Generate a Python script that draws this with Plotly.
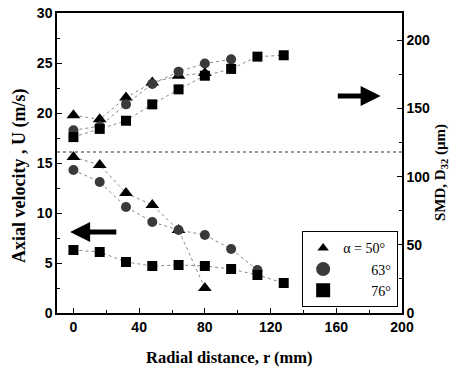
import plotly.graph_objects as go

r_mm = [0, 16, 32, 48, 64, 80, 96, 112, 128]

# Axial velocity U (m/s), left axis
u_50 = [15.6, 14.8, 12.0, 10.8, 8.3, 2.5]
u_63 = [14.3, 13.1, 10.6, 9.1, 8.3, 7.8, 6.4, 4.3]
u_76 = [6.3, 6.1, 5.1, 4.7, 4.8, 4.7, 4.4, 3.8, 3.0]

# SMD D32 (um), right axis
d_50 = [145, 142, 158, 169, 174, 176]
d_63 = [134, 137, 153, 168, 177, 183, 186]
d_76 = [129, 135, 141, 153, 164, 174, 179, 188, 189]

legend_names = ["\u03b1 = 50\u00b0", "        63\u00b0", "        76\u00b0"]

divider_u = 16.1

fig = go.Figure()

line_style = dict(color="#8a8a8a", width=1, dash="dot")
styles = [
    dict(symbol="triangle-up", size=12, color="#000"),
    dict(symbol="circle", size=10, color="#3a3a3a"),
    dict(symbol="square", size=10, color="#000"),
]

for vals, st in zip([u_50, u_63, u_76], styles):
    fig.add_trace(go.Scatter(x=r_mm[:len(vals)], y=vals, mode="lines+markers",
                             line=line_style, marker=st, showlegend=False, yaxis="y"))
for vals, st in zip([d_50, d_63, d_76], styles):
    fig.add_trace(go.Scatter(x=r_mm[:len(vals)], y=vals, mode="lines+markers",
                             line=line_style, marker=st, showlegend=False, yaxis="y2"))
leg_styles = [
    dict(symbol="triangle-up", size=10, color="#000"),
    dict(symbol="circle", size=14, color="#3a3a3a"),
    dict(symbol="square", size=14, color="#000"),
]
for name, st in zip(legend_names, leg_styles):
    fig.add_trace(go.Scatter(x=[None], y=[None], mode="markers", marker=st,
                             name=name, showlegend=True))

tickfont = dict(family="Liberation Sans, Arial", size=14, color="#000", weight="bold")
serif_bold = dict(family="Liberation Serif, Times New Roman", color="#000", weight="bold")

fig.add_shape(type="line", xref="paper", x0=0, x1=1, yref="y", y0=divider_u, y1=divider_u,
              line=dict(color="#333", width=1.2, dash="dot"))

# arrows
fig.add_annotation(x=-2, y=8.1, ax=27, ay=8.1, xref="x", yref="y", axref="x", ayref="y",
                   showarrow=True, arrowhead=2, arrowsize=0.8, arrowwidth=5, arrowcolor="#000", text="")
fig.add_annotation(x=187, y=21.7, ax=160, ay=21.7, xref="x", yref="y", axref="x", ayref="y",
                   showarrow=True, arrowhead=2, arrowsize=0.8, arrowwidth=5, arrowcolor="#000", text="")

# axis titles
fig.add_annotation(text="Axial velocity , U (m/s)", xref="paper", yref="paper",
                   x=-0.107, y=0.457, xanchor="center", yanchor="middle", textangle=-90,
                   showarrow=False, font=dict(serif_bold, size=18))
fig.add_annotation(text="SMD, D<sub>32</sub> (\u00b5m)", xref="paper", yref="paper",
                   x=1.113, y=0.47, xanchor="center", yanchor="middle", textangle=-90,
                   showarrow=False, font=dict(serif_bold, size=15))
fig.add_annotation(text="Radial distance, r (mm)", xref="paper", yref="paper",
                   x=0.5, y=-0.147, xanchor="center", yanchor="middle",
                   showarrow=False, font=dict(serif_bold, size=16.5))

fig.update_layout(
    width=457, height=376,
    margin=dict(l=57, r=55, t=13, b=63),
    paper_bgcolor="white", plot_bgcolor="white",
    xaxis=dict(range=[-10, 200], tickvals=[0, 40, 80, 120, 160, 200], ticks="inside",
               ticklen=5, tickwidth=1, tickcolor="#000", showline=True, linecolor="#000",
               linewidth=1.5, mirror=True, showgrid=False, zeroline=False, automargin=False,
               tickfont=tickfont,
               minor=dict(tickvals=[20, 60, 100, 140, 180], ticks="inside", ticklen=3, tickcolor="#000")),
    yaxis=dict(range=[0, 30], tickvals=[0, 5, 10, 15, 20, 25, 30], ticks="inside",
               ticklen=5, tickcolor="#000", showline=True, linecolor="#000", linewidth=1.5,
               showgrid=False, zeroline=False, tickfont=tickfont, automargin=False,
               minor=dict(dtick=2.5, ticks="inside", ticklen=3, tickcolor="#000")),
    yaxis2=dict(range=[0, 220], tickvals=[0, 50, 100, 150, 200], ticks="inside",
                ticklen=5, tickcolor="#000", showline=True, linecolor="#000", linewidth=1.5,
                overlaying="y", side="right", showgrid=False, zeroline=False, tickfont=tickfont,
                automargin=False,
                minor=dict(dtick=25, ticks="inside", ticklen=3, tickcolor="#000")),
    legend=dict(x=0.71, y=0.273, xanchor="left", yanchor="top", bgcolor="white",
                bordercolor="#000", borderwidth=1.2,
                font=dict(family="Liberation Serif, Times New Roman", size=14, color="#000"),
                itemwidth=30, tracegroupgap=0),
    showlegend=True,
)

fig.write_html("out.html", config={"displayModeBar": False},
               post_script="document.body.style.margin='0';")
